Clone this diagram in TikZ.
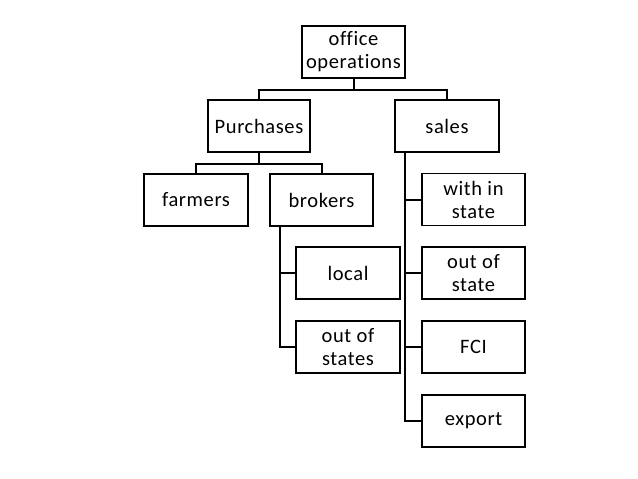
\documentclass[tikz,border=0pt]{standalone}
\usepackage{fontspec}
\setmainfont[Ligatures=NoCommon,LetterSpace=3]{Carlito}
\begin{document}
\begin{tikzpicture}[x=1pt,y=-1pt,
  box/.style={draw=black, line width=1.9pt, fill=white, align=center, inner sep=0pt,
    minimum width=103pt, minimum height=52pt, font=\fontsize{20.5}{23}\selectfont},
  link/.style={draw=black, line width=2pt}]
\useasboundingbox (0,0) rectangle (638,479);
\fill[white] (0,0) rectangle (638,479);
\node[box] (top) at (353.5,52) {office\\operations};
\node[box, minimum width=102pt] (purch) at (259,126) {Purchases};
\node[box, minimum width=104pt] (sales) at (447,126) {sales};
\node[box, minimum width=104pt] (farmers) at (196,200) {farmers};
\node[box] (brokers) at (321.5,200) {brokers};
\node[box, minimum width=104pt] (local) at (348,273) {local};
\node[box, minimum width=104pt] (outs) at (348,347) {out of\\states};
\node[box] (within) at (473.5,199.5) {with in\\state};
\node[box] (outstate) at (473.5,273) {out of\\state};
\node[box] (fci) at (473.5,347) {FCI};
\node[box] (export) at (473.5,421) {export};
\coordinate (tb) at ([yshift=-11pt]top.south);
\draw[link] (top.south) -- (tb);
\draw[link] (tb) -| (purch.north);
\draw[link] (tb) -| (sales.north);
\coordinate (pb) at ([yshift=-11pt]purch.south);
\draw[link] (purch.south) -- (pb);
\draw[link] (pb) -| (farmers.north);
\draw[link] (pb) -| (brokers.north);
\coordinate (bk) at ([xshift=11pt]brokers.south west);
\draw[link] (bk) |- (local.west);
\draw[link] (bk) |- (outs.west);
\coordinate (sk) at ([xshift=11pt]sales.south west);
\draw[link] (sk) |- (within.west);
\draw[link] (sk) |- (outstate.west);
\draw[link] (sk) |- (fci.west);
\draw[link] (sk) |- (export.west);
\end{tikzpicture}
\end{document}
